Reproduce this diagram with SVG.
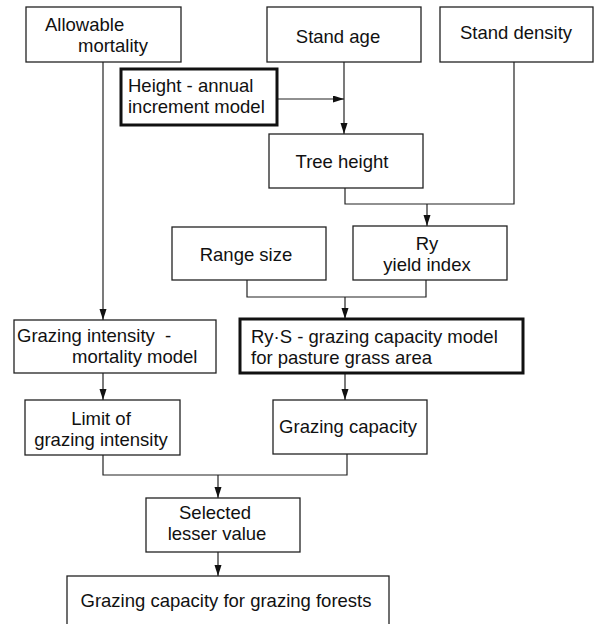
<svg xmlns="http://www.w3.org/2000/svg" width="594" height="624" viewBox="0 0 594 624">
<style>
.box{fill:#fff;stroke:#222;stroke-width:1.3}
.thick{fill:#fff;stroke:#111;stroke-width:3}
text{font-family:"Liberation Sans",Arial,sans-serif;font-size:18.5px;fill:#111}
.c{text-anchor:middle}
.ln{fill:none;stroke:#222;stroke-width:1.2}
</style>
<defs>
<marker id="ah" markerUnits="userSpaceOnUse" markerWidth="12" markerHeight="8" refX="11" refY="3.5" orient="auto">
<path d="M0,0 L11,3.5 L0,7 z" fill="#111"/>
</marker>
</defs>
<rect width="594" height="624" fill="#fff"/>
<g id="connectors">
<path class="ln" d="M103,62 V320" marker-end="url(#ah)"/>
<path class="ln" d="M344,62 V134" marker-end="url(#ah)"/>
<path class="ln" d="M277,99 H344" marker-end="url(#ah)"/>
<path class="ln" d="M345,188 V204 H514 V62"/>
<path class="ln" d="M427,204 V226" marker-end="url(#ah)"/>
<path class="ln" d="M247,280 V297 H426 V280"/>
<path class="ln" d="M345,297 V319" marker-end="url(#ah)"/>
<path class="ln" d="M103,373 V400" marker-end="url(#ah)"/>
<path class="ln" d="M345,373 V400" marker-end="url(#ah)"/>
<path class="ln" d="M103,455 V475 H347 V454"/>
<path class="ln" d="M218,475 V498" marker-end="url(#ah)"/>
<path class="ln" d="M218,552 V576" marker-end="url(#ah)"/>
</g>
<g id="allowable-mortality">
<rect class="box" x="26" y="7" width="155" height="55"/>
<text x="45" y="31">Allowable</text>
<text x="78" y="52">mortality</text>
</g>
<g id="stand-age">
<rect class="box" x="267" y="7" width="154" height="55"/>
<text class="c" x="338" y="43">Stand age</text>
</g>
<g id="stand-density">
<rect class="box" x="440" y="7" width="153" height="55"/>
<text class="c" x="516" y="39">Stand density</text>
</g>
<g id="height-model">
<rect class="thick" x="121" y="69" width="156" height="56"/>
<text x="128" y="92">Height - annual</text>
<text x="128" y="113">increment model</text>
</g>
<g id="tree-height">
<rect class="box" x="269" y="134" width="154" height="54"/>
<text class="c" x="342" y="168">Tree height</text>
</g>
<g id="range-size">
<rect class="box" x="172" y="227" width="154" height="53"/>
<text class="c" x="246" y="261">Range size</text>
</g>
<g id="ry-yield-index">
<rect class="box" x="353" y="226" width="154" height="54"/>
<text class="c" x="427" y="250">Ry</text>
<text class="c" x="427" y="271">yield index</text>
</g>
<g id="grazing-intensity-model">
<rect class="box" x="14" y="320" width="202" height="53"/>
<text x="17" y="342" xml:space="preserve">Grazing intensity  -</text>
<text x="72" y="363">mortality model</text>
</g>
<g id="rys-model">
<rect class="thick" x="240" y="319" width="283" height="54"/>
<text x="251" y="343">Ry·S - grazing capacity model</text>
<text x="251" y="364">for pasture grass area</text>
</g>
<g id="limit-grazing-intensity">
<rect class="box" x="25" y="400" width="155" height="55"/>
<text class="c" x="101" y="425">Limit of</text>
<text class="c" x="101" y="446">grazing intensity</text>
</g>
<g id="grazing-capacity">
<rect class="box" x="273" y="400" width="154" height="54"/>
<text class="c" x="348" y="433">Grazing capacity</text>
</g>
<g id="selected-lesser-value">
<rect class="box" x="146" y="498" width="154" height="54"/>
<text class="c" x="215" y="519">Selected</text>
<text class="c" x="217" y="540">lesser value</text>
</g>
<g id="grazing-capacity-forests">
<rect class="box" x="67" y="576" width="322" height="52"/>
<text class="c" x="226" y="607">Grazing capacity for grazing forests</text>
</g>
</svg>
